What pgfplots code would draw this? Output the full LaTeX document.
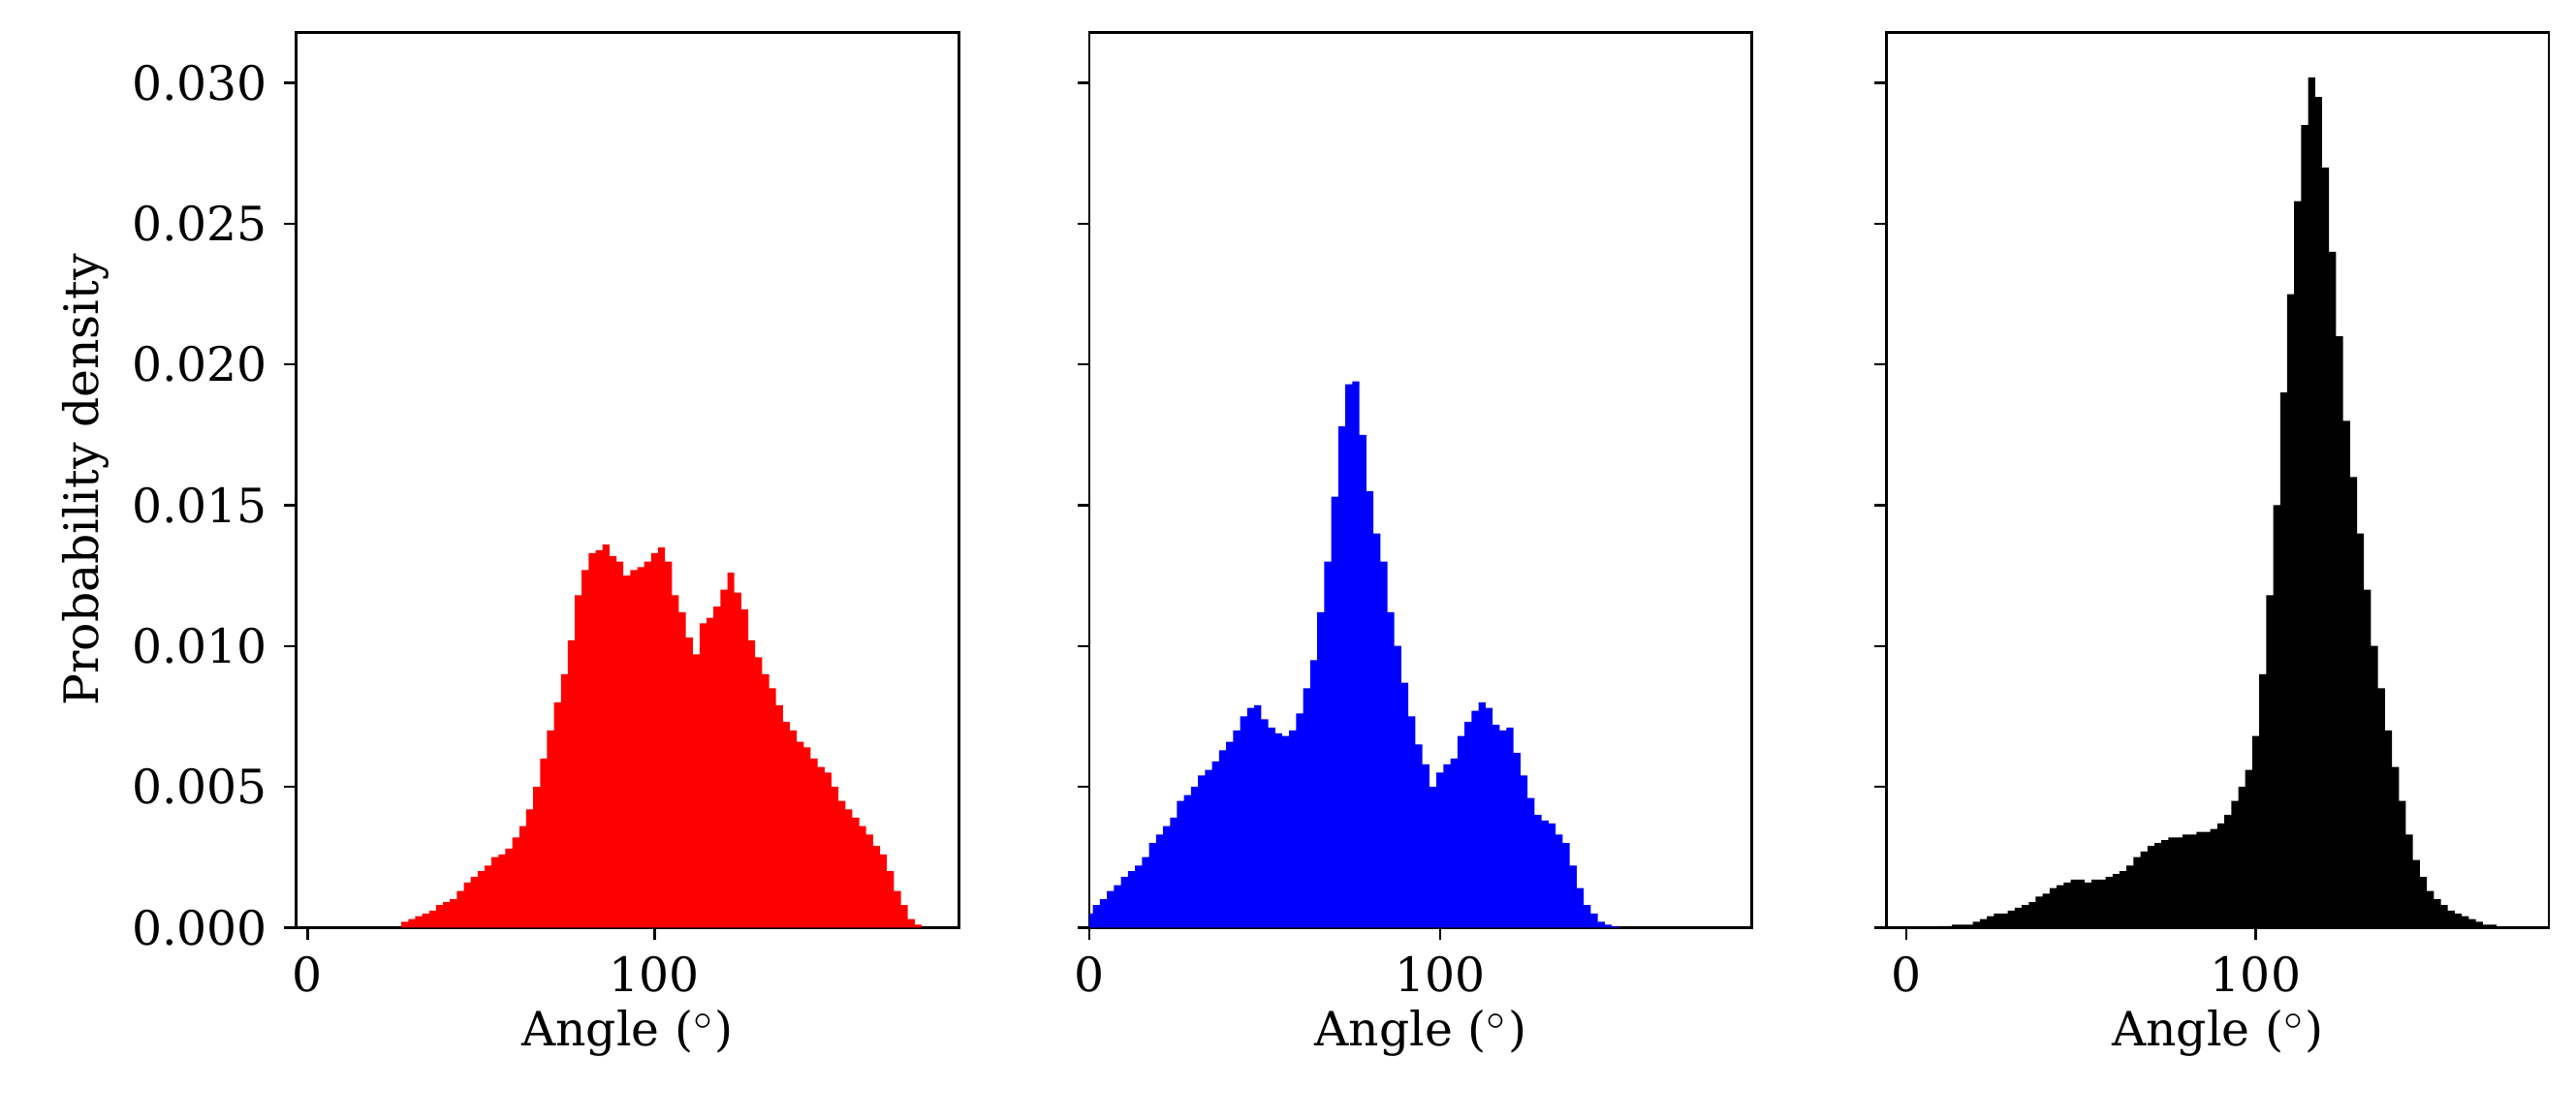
\documentclass[border=0pt]{standalone}
\usepackage{pgfplots}
\pgfplotsset{compat=1.18}
\usepackage{fontspec}
\setmainfont{DejaVu Serif}
\begin{document}
\begin{tikzpicture}
\pgfplotsset{myax/.style={
  width=4.92cm, height=6.65cm, scale only axis,
  ymin=0, ymax=0.0318, xtick={0,100}, ytick={0,0.005,0.010,0.015,0.020,0.025,0.030},
  tick align=outside, xtick pos=left, ytick pos=left,
  major tick length=0.09cm,
  axis line style={line width=0.5pt},
  tick style={line width=0.5pt, black},
  font=\fontsize{10}{12}\selectfont,
  /pgf/number format/assume math mode=true,
  yticklabel style={/pgf/number format/fixed,/pgf/number format/fixed zerofill,/pgf/number format/precision=3},
  scaled y ticks=false,
  xlabel={Angle ($^{\circ}$)},
  xlabel style={yshift=3pt},
  anchor=south west,
}}
\useasboundingbox (0cm,0cm) rectangle (19.13cm,8.32cm);
\begin{axis}[myax, at={(2.20cm,1.43cm)}, xmin=-3.3, xmax=187.7, ylabel={Probability density}, ylabel style={yshift=-2pt}]
\addplot[const plot mark mid, fill=red, draw=none] coordinates {
(26,0)(28,0.0002)(30,0.0003)(32,0.0004)(34,0.0005)(36,0.0006)(38,0.0008)(40,0.0009)(42,0.0010)(44,0.0013)(46,0.0016)(48,0.0018)(50,0.0020)(52,0.0022)(54,0.0025)(56,0.0026)(58,0.0028)(60,0.0032)(62,0.0036)(64,0.0042)(66,0.0050)(68,0.0060)(70,0.0070)(72,0.0080)(74,0.0090)(76,0.0102)(78,0.0118)(80,0.0127)(82,0.0133)(84,0.0134)(86,0.0136)(88,0.0132)(90,0.0130)(92,0.0125)(94,0.0127)(96,0.0128)(98,0.0130)(100,0.0133)(102,0.0135)(104,0.0130)(106,0.0118)(108,0.0112)(110,0.0103)(112,0.0097)(114,0.0108)(116,0.0110)(118,0.0114)(120,0.0120)(122,0.0126)(124,0.0119)(126,0.0113)(128,0.0102)(130,0.0096)(132,0.0090)(134,0.0085)(136,0.0079)(138,0.0073)(140,0.0070)(142,0.0066)(144,0.0064)(146,0.0060)(148,0.0057)(150,0.0055)(152,0.0050)(154,0.0045)(156,0.0042)(158,0.0039)(160,0.0036)(162,0.0033)(164,0.0029)(166,0.0026)(168,0.0020)(170,0.0013)(172,0.0008)(174,0.0003)(176,0.0001)(178,0)
} \closedcycle;
\end{axis}
\begin{axis}[myax, at={(8.09cm,1.43cm)}, xmin=0, xmax=189, yticklabels={}]
\addplot[const plot mark mid, fill=blue, draw=none] coordinates {
(0,0.0005)(2,0.0008)(4,0.0010)(6,0.0013)(8,0.0015)(10,0.0018)(12,0.0020)(14,0.0022)(16,0.0025)(18,0.0030)(20,0.0033)(22,0.0036)(24,0.0039)(26,0.0045)(28,0.0047)(30,0.0050)(32,0.0054)(34,0.0056)(36,0.0059)(38,0.0063)(40,0.0066)(42,0.0070)(44,0.0075)(46,0.0078)(48,0.0079)(50,0.0074)(52,0.0071)(54,0.0069)(56,0.0068)(58,0.0070)(60,0.0076)(62,0.0085)(64,0.0095)(66,0.0112)(68,0.0130)(70,0.0153)(72,0.0178)(74,0.0193)(76,0.0194)(78,0.0175)(80,0.0155)(82,0.0140)(84,0.0130)(86,0.0112)(88,0.0100)(90,0.0087)(92,0.0075)(94,0.0065)(96,0.0058)(98,0.0050)(100,0.0055)(102,0.0058)(104,0.0060)(106,0.0068)(108,0.0073)(110,0.0077)(112,0.0080)(114,0.0078)(116,0.0072)(118,0.0070)(120,0.0071)(122,0.0062)(124,0.0054)(126,0.0046)(128,0.0040)(130,0.0038)(132,0.0037)(134,0.0033)(136,0.0030)(138,0.0022)(140,0.0014)(142,0.0008)(144,0.0005)(146,0.0002)(148,0.0001)(150,0.00005)(152,0)
} \closedcycle;
\end{axis}
\begin{axis}[myax, at={(14.01cm,1.43cm)}, xmin=-5.7, xmax=184, yticklabels={}]
\addplot[const plot mark mid, fill=black, draw=none] coordinates {
(6,0)(8,0.00003)(10,0.00005)(12,0.00005)(14,0.0001)(16,0.0001)(18,0.0001)(20,0.0002)(22,0.0003)(24,0.0004)(26,0.0005)(28,0.0005)(30,0.0006)(32,0.0007)(34,0.0008)(36,0.0009)(38,0.0011)(40,0.0012)(42,0.0014)(44,0.0015)(46,0.0016)(48,0.0017)(50,0.0017)(52,0.0016)(54,0.0017)(56,0.0017)(58,0.0018)(60,0.0019)(62,0.0020)(64,0.0022)(66,0.0025)(68,0.0027)(70,0.0029)(72,0.0030)(74,0.0031)(76,0.0032)(78,0.0032)(80,0.0033)(82,0.0033)(84,0.0034)(86,0.0034)(88,0.0035)(90,0.0037)(92,0.0040)(94,0.0045)(96,0.0050)(98,0.0056)(100,0.0068)(102,0.0090)(104,0.0118)(106,0.0150)(108,0.0190)(110,0.0225)(112,0.0258)(114,0.0285)(116,0.0302)(118,0.0295)(120,0.0270)(122,0.0240)(124,0.0210)(126,0.0180)(128,0.0160)(130,0.0140)(132,0.0120)(134,0.0100)(136,0.0085)(138,0.0070)(140,0.0057)(142,0.0045)(144,0.0033)(146,0.0024)(148,0.0018)(150,0.0013)(152,0.0010)(154,0.0008)(156,0.0006)(158,0.0005)(160,0.0004)(162,0.0003)(164,0.0002)(166,0.0001)(168,0.0001)(170,0)
} \closedcycle;
\end{axis}
\end{tikzpicture}
\end{document}
